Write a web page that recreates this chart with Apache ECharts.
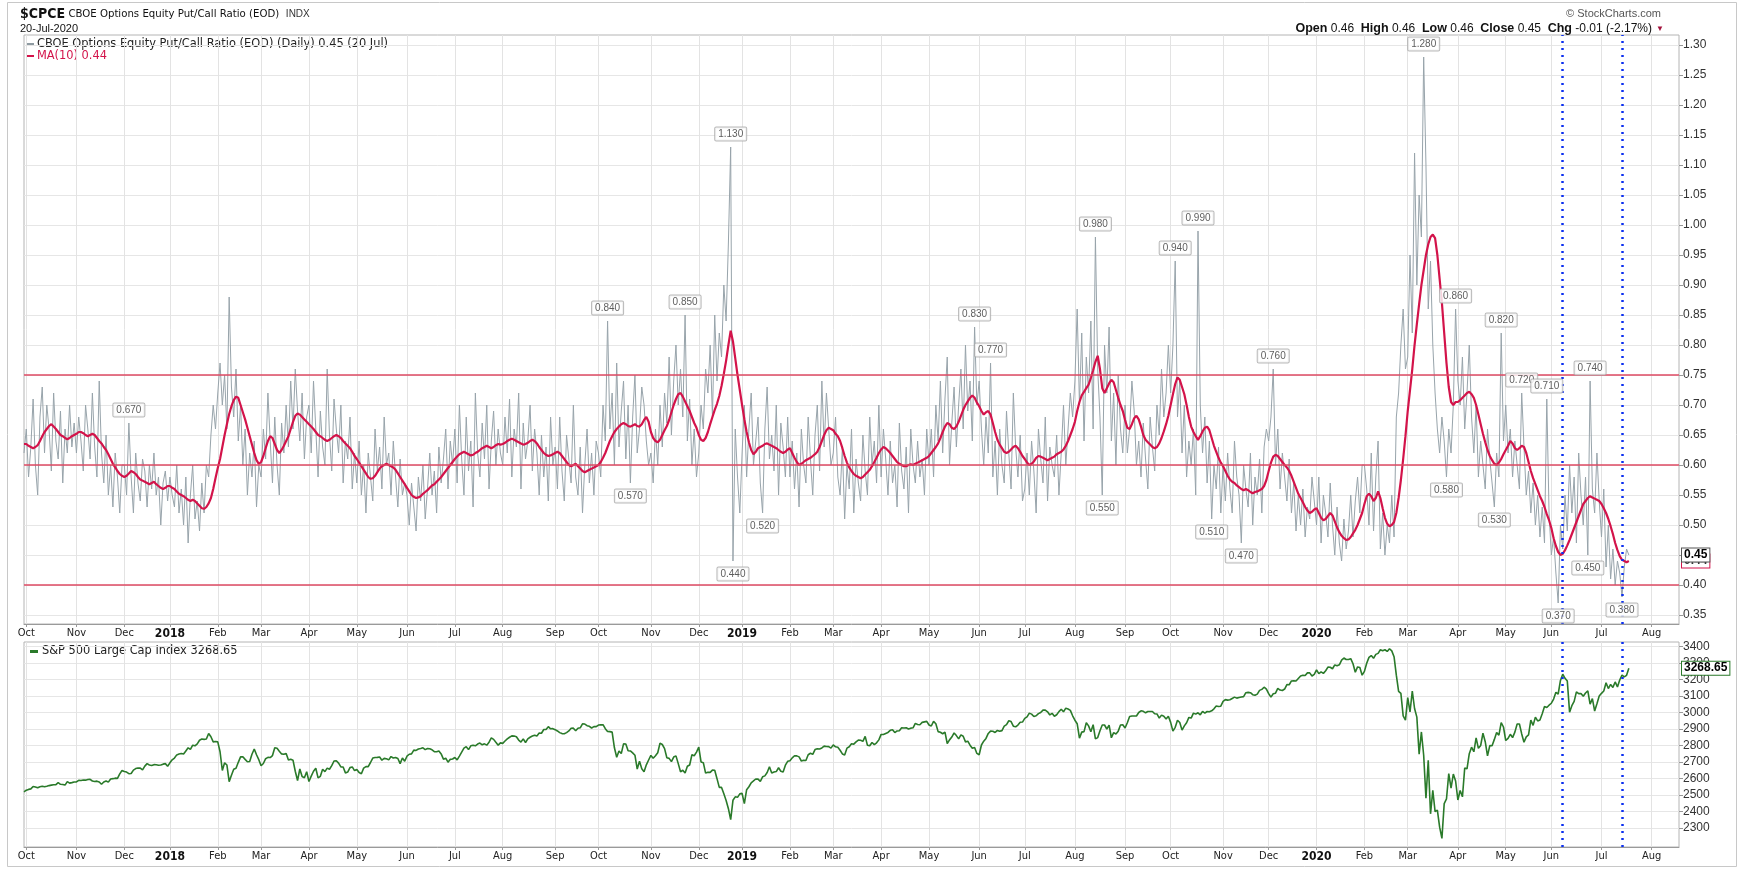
<!DOCTYPE html>
<html>
<head>
<meta charset="utf-8">
<title>$CPCE - CBOE Options Equity Put/Call Ratio</title>
<script src="https://cdn.jsdelivr.net/npm/echarts@6/dist/echarts.min.js"></script>
<style>
  html, body { margin: 0; padding: 0; background: #fff; }
  #chart { width: 1743px; height: 870px; }
</style>
</head>
<body>
<div id="chart"></div>
<script>
// market holidays, used to build the trading-day axis
const holidays = [
  '2017-11-23', '2017-12-25',
  '2018-01-01', '2018-01-15', '2018-02-19', '2018-03-30', '2018-05-28', '2018-07-04',
  '2018-09-03', '2018-11-22', '2018-12-05', '2018-12-25',
  '2019-01-01', '2019-01-21', '2019-02-18', '2019-04-19', '2019-05-27', '2019-07-04',
  '2019-09-02', '2019-11-28', '2019-12-25',
  '2020-01-01', '2020-01-20', '2020-02-17', '2020-04-10', '2020-05-25', '2020-07-03'
]
const monthNames = ['Jan', 'Feb', 'Mar', 'Apr', 'May', 'Jun', 'Jul', 'Aug', 'Sep', 'Oct', 'Nov', 'Dec']

// $CPCE daily close, one row per month (2017 starts on Sep 29)
const ratio2017 = [
  0.62,
  0.66, 0.58, 0.63, 0.71, 0.60, 0.55, 0.68, 0.73, 0.62, 0.70, 0.66, 0.59, 0.72, 0.64, 0.61, 0.69, 0.57, 0.66, 0.62, 0.70, 0.63, 0.67,
  0.62, 0.68, 0.64, 0.59, 0.70, 0.66, 0.61, 0.72, 0.63, 0.58, 0.74, 0.62, 0.57, 0.65, 0.55, 0.60, 0.53, 0.62, 0.58, 0.52, 0.60,
  0.60, 0.55, 0.67, 0.58, 0.52, 0.62, 0.57, 0.54, 0.61, 0.59, 0.53, 0.60, 0.56, 0.62, 0.55, 0.58, 0.50, 0.57, 0.59, 0.54
]
const ratio2018 = [
  0.58, 0.55, 0.53, 0.60, 0.52, 0.56, 0.50, 0.58, 0.47, 0.55, 0.60, 0.51, 0.54, 0.49, 0.57, 0.52, 0.60, 0.58, 0.65, 0.70, 0.66,
  0.72, 0.77, 0.70, 0.75, 0.66, 0.88, 0.73, 0.68, 0.76, 0.64, 0.70, 0.60, 0.66, 0.55, 0.62, 0.58, 0.64, 0.53, 0.60,
  0.58, 0.66, 0.61, 0.72, 0.64, 0.57, 0.68, 0.60, 0.55, 0.67, 0.62, 0.70, 0.63, 0.74, 0.66, 0.76, 0.69, 0.64, 0.72, 0.61, 0.68,
  0.70, 0.62, 0.74, 0.66, 0.58, 0.69, 0.63, 0.60, 0.76, 0.65, 0.59, 0.71, 0.66, 0.62, 0.70, 0.57, 0.64, 0.61, 0.68, 0.56, 0.62,
  0.57, 0.64, 0.55, 0.60, 0.52, 0.62, 0.58, 0.54, 0.66, 0.59, 0.63, 0.56, 0.68, 0.60, 0.62, 0.55, 0.64, 0.58, 0.53, 0.61, 0.55, 0.57,
  0.55, 0.50, 0.57, 0.53, 0.49, 0.58, 0.54, 0.60, 0.51, 0.56, 0.62, 0.55, 0.59, 0.52, 0.63, 0.57, 0.61, 0.66, 0.56, 0.64, 0.60,
  0.66, 0.57, 0.70, 0.61, 0.55, 0.68, 0.59, 0.64, 0.53, 0.72, 0.62, 0.58, 0.67, 0.61, 0.70, 0.56, 0.64, 0.69, 0.60, 0.66, 0.62,
  0.60, 0.68, 0.62, 0.71, 0.58, 0.66, 0.63, 0.72, 0.56, 0.67, 0.61, 0.64, 0.70, 0.59, 0.66, 0.62, 0.55, 0.65, 0.58, 0.63, 0.54, 0.68, 0.60,
  0.63, 0.56, 0.68, 0.59, 0.54, 0.65, 0.61, 0.57, 0.70, 0.58, 0.55, 0.63, 0.52, 0.60, 0.66, 0.57, 0.62, 0.55, 0.64,
  0.62, 0.58, 0.70, 0.64, 0.84, 0.66, 0.72, 0.60, 0.77, 0.63, 0.69, 0.74, 0.61, 0.70, 0.57, 0.68, 0.75, 0.62, 0.66, 0.73, 0.70, 0.64, 0.60,
  0.62, 0.57, 0.66, 0.60, 0.70, 0.63, 0.72, 0.67, 0.78, 0.65, 0.74, 0.80, 0.70, 0.76, 0.68, 0.85, 0.64, 0.71, 0.60, 0.66, 0.58,
  0.62, 0.70, 0.66, 0.76, 0.72, 0.80, 0.68, 0.85, 0.74, 0.82, 0.78, 0.90, 0.84, 0.97, 1.13, 0.44, 0.66, 0.58, 0.52
]
const ratio2019 = [
  0.62, 0.70, 0.58, 0.66, 0.72, 0.60, 0.64, 0.68, 0.57, 0.52, 0.66, 0.73, 0.61, 0.65, 0.59, 0.70, 0.55, 0.67, 0.63, 0.58, 0.68,
  0.58, 0.64, 0.56, 0.62, 0.53, 0.66, 0.60, 0.57, 0.68, 0.61, 0.55, 0.65, 0.70, 0.59, 0.74, 0.63, 0.72, 0.66, 0.60,
  0.62, 0.68, 0.58, 0.55, 0.63, 0.51, 0.60, 0.56, 0.66, 0.52, 0.61, 0.57, 0.54, 0.65, 0.59, 0.55, 0.68, 0.60, 0.64, 0.57, 0.70,
  0.58, 0.66, 0.61, 0.55, 0.64, 0.57, 0.60, 0.53, 0.67, 0.59, 0.56, 0.63, 0.52, 0.66, 0.60, 0.57, 0.64, 0.58, 0.61, 0.55, 0.66,
  0.60, 0.66, 0.58, 0.70, 0.64, 0.74, 0.62, 0.71, 0.78, 0.60, 0.67, 0.73, 0.63, 0.70, 0.76, 0.66, 0.80, 0.69, 0.74, 0.64, 0.83, 0.70,
  0.74, 0.66, 0.60, 0.68, 0.62, 0.77, 0.58, 0.64, 0.55, 0.66, 0.60, 0.57, 0.69, 0.62, 0.56, 0.72, 0.63, 0.58, 0.65, 0.54,
  0.56, 0.62, 0.55, 0.64, 0.59, 0.52, 0.66, 0.61, 0.57, 0.68, 0.54, 0.63, 0.60, 0.58, 0.65, 0.55, 0.62, 0.70, 0.60, 0.66, 0.72, 0.68,
  0.74, 0.86, 0.70, 0.82, 0.64, 0.78, 0.72, 0.84, 0.66, 0.98, 0.76, 0.68, 0.55, 0.80, 0.72, 0.83, 0.64, 0.72, 0.60, 0.75, 0.66, 0.62,
  0.70, 0.62, 0.66, 0.74, 0.69, 0.60, 0.64, 0.58, 0.67, 0.61, 0.56, 0.68, 0.63, 0.59, 0.70, 0.65, 0.76, 0.68, 0.72, 0.80,
  0.72, 0.80, 0.94, 0.68, 0.74, 0.62, 0.70, 0.58, 0.64, 0.60, 0.66, 0.55, 0.99, 0.70, 0.62, 0.68, 0.57, 0.64, 0.51, 0.60, 0.56, 0.63, 0.52,
  0.60, 0.54, 0.62, 0.56, 0.52, 0.64, 0.58, 0.55, 0.47, 0.60, 0.56, 0.53, 0.62, 0.50, 0.58, 0.55, 0.61, 0.52, 0.63, 0.66,
  0.64, 0.68, 0.76, 0.60, 0.66, 0.56, 0.62, 0.58, 0.54, 0.61, 0.52, 0.57, 0.49, 0.55, 0.50, 0.56, 0.48, 0.53, 0.51, 0.58, 0.54
]
const ratio2020 = [
  0.50, 0.58, 0.47, 0.55, 0.52, 0.48, 0.57, 0.50, 0.45, 0.53, 0.47, 0.44, 0.51, 0.46, 0.49, 0.55, 0.48, 0.54, 0.58, 0.52, 0.60,
  0.60, 0.56, 0.50, 0.62, 0.49, 0.58, 0.64, 0.46, 0.52, 0.45, 0.50, 0.47, 0.55, 0.48, 0.68, 0.72, 0.80, 0.86, 0.76,
  0.78, 0.95, 0.82, 1.12, 0.90, 1.05, 0.98, 1.28, 1.10, 0.86, 0.94, 0.80, 0.72, 0.66, 0.62, 0.68, 0.64, 0.58, 0.66, 0.62, 0.70, 0.86,
  0.74, 0.70, 0.78, 0.66, 0.72, 0.80, 0.68, 0.62, 0.70, 0.58, 0.64, 0.60, 0.56, 0.66, 0.61, 0.57, 0.53, 0.62, 0.58, 0.82, 0.64,
  0.70, 0.62, 0.66, 0.58, 0.64, 0.60, 0.56, 0.72, 0.63, 0.55, 0.59, 0.52, 0.57, 0.50, 0.55, 0.48, 0.53, 0.47, 0.71, 0.52,
  0.45, 0.48, 0.42, 0.37, 0.50, 0.46, 0.55, 0.49, 0.60, 0.52, 0.58, 0.47, 0.62, 0.55, 0.50, 0.58, 0.45, 0.74, 0.56, 0.52, 0.62, 0.54,
  0.48, 0.56, 0.43, 0.50, 0.41, 0.46, 0.40, 0.44, 0.42, 0.38, 0.43, 0.46, 0.45
]

// MA(10) as drawn on the chart
const ma2017 = [
  0.635,
  0.635, 0.632, 0.630, 0.628, 0.630, 0.633, 0.640, 0.648, 0.655, 0.660, 0.665, 0.668, 0.664, 0.660, 0.655, 0.650, 0.648, 0.645, 0.643, 0.645, 0.648, 0.650,
  0.652, 0.655, 0.655, 0.653, 0.650, 0.648, 0.650, 0.652, 0.650, 0.645, 0.640, 0.636, 0.630, 0.625, 0.618, 0.610, 0.602, 0.596, 0.590, 0.585, 0.582,
  0.580, 0.582, 0.586, 0.590, 0.588, 0.585, 0.580, 0.576, 0.574, 0.572, 0.570, 0.568, 0.570, 0.572, 0.568, 0.565, 0.562, 0.560, 0.562, 0.565
]
const ma2018 = [
  0.565, 0.562, 0.560, 0.556, 0.552, 0.550, 0.548, 0.545, 0.542, 0.540, 0.542, 0.540, 0.536, 0.532, 0.528, 0.527, 0.530, 0.536, 0.545, 0.560, 0.578,
  0.595, 0.610, 0.630, 0.650, 0.668, 0.685, 0.698, 0.708, 0.714, 0.712, 0.700, 0.688, 0.676, 0.662, 0.648, 0.634, 0.620, 0.608, 0.602,
  0.605, 0.615, 0.628, 0.640, 0.648, 0.645, 0.635, 0.625, 0.620, 0.625, 0.632, 0.640, 0.648, 0.660, 0.672, 0.682, 0.686, 0.684, 0.680, 0.676, 0.672,
  0.668, 0.664, 0.660, 0.655, 0.650, 0.648, 0.645, 0.642, 0.640, 0.642, 0.645, 0.648, 0.650, 0.648, 0.645, 0.640, 0.636, 0.632, 0.628, 0.622, 0.615,
  0.610, 0.604, 0.598, 0.592, 0.586, 0.580, 0.577, 0.578, 0.582, 0.588, 0.594, 0.598, 0.600, 0.602, 0.600, 0.598, 0.596, 0.592, 0.586, 0.580, 0.574, 0.568,
  0.562, 0.556, 0.550, 0.547, 0.545, 0.546, 0.548, 0.552, 0.555, 0.558, 0.562, 0.566, 0.568, 0.572, 0.576, 0.580, 0.585, 0.590, 0.595, 0.600, 0.605,
  0.610, 0.614, 0.618, 0.620, 0.622, 0.620, 0.618, 0.616, 0.617, 0.620, 0.622, 0.625, 0.628, 0.630, 0.632, 0.630, 0.628, 0.630, 0.633, 0.635, 0.634,
  0.635, 0.637, 0.640, 0.642, 0.644, 0.642, 0.640, 0.638, 0.636, 0.634, 0.635, 0.637, 0.640, 0.642, 0.640, 0.636, 0.630, 0.625, 0.620, 0.617, 0.615, 0.616, 0.618,
  0.620, 0.622, 0.620, 0.615, 0.610, 0.605, 0.600, 0.598, 0.600, 0.602, 0.598, 0.594, 0.590, 0.588, 0.590, 0.592, 0.594, 0.596, 0.598,
  0.600, 0.605, 0.612, 0.620, 0.630, 0.640, 0.648, 0.655, 0.660, 0.664, 0.668, 0.670, 0.668, 0.665, 0.664, 0.666, 0.668, 0.665, 0.664, 0.668, 0.675, 0.680, 0.672,
  0.655, 0.645, 0.640, 0.638, 0.642, 0.650, 0.658, 0.665, 0.675, 0.688, 0.700, 0.710, 0.718, 0.720, 0.714, 0.706, 0.698, 0.690, 0.680, 0.670, 0.662,
  0.650, 0.642, 0.640, 0.645, 0.655, 0.668, 0.680, 0.692, 0.702, 0.715, 0.732, 0.752, 0.774, 0.800, 0.824, 0.806, 0.778, 0.750, 0.725
]
const ma2019 = [
  0.700, 0.676, 0.655, 0.638, 0.625, 0.618, 0.622, 0.628, 0.630, 0.632, 0.635, 0.636, 0.634, 0.632, 0.630, 0.628, 0.625, 0.622, 0.620, 0.622, 0.626,
  0.628, 0.620, 0.612, 0.605, 0.600, 0.602, 0.605, 0.608, 0.610, 0.612, 0.615, 0.618, 0.622, 0.630, 0.640, 0.650, 0.658, 0.662, 0.660,
  0.658, 0.652, 0.648, 0.640, 0.628, 0.615, 0.604, 0.596, 0.590, 0.585, 0.582, 0.580, 0.578, 0.580, 0.584, 0.588, 0.592, 0.598, 0.605, 0.612, 0.620,
  0.626, 0.630, 0.628, 0.624, 0.620, 0.615, 0.610, 0.605, 0.602, 0.600, 0.598, 0.598, 0.600, 0.601, 0.600, 0.602, 0.604, 0.606, 0.608, 0.610, 0.612,
  0.615, 0.620, 0.625, 0.630, 0.636, 0.645, 0.655, 0.664, 0.670, 0.668, 0.662, 0.660, 0.664, 0.672, 0.682, 0.692, 0.700, 0.706, 0.712, 0.716, 0.712, 0.704,
  0.698, 0.690, 0.684, 0.688, 0.690, 0.684, 0.670, 0.655, 0.642, 0.634, 0.628, 0.622, 0.620, 0.622, 0.626, 0.630, 0.632, 0.628, 0.622, 0.615,
  0.610, 0.604, 0.600, 0.602, 0.606, 0.612, 0.615, 0.614, 0.612, 0.610, 0.608, 0.610, 0.612, 0.614, 0.618, 0.620, 0.622, 0.626, 0.632, 0.640, 0.650, 0.660,
  0.672, 0.690, 0.705, 0.716, 0.722, 0.728, 0.734, 0.745, 0.758, 0.772, 0.782, 0.760, 0.728, 0.720, 0.728, 0.736, 0.742, 0.738, 0.725, 0.712, 0.700, 0.690,
  0.675, 0.662, 0.660, 0.668, 0.678, 0.682, 0.676, 0.664, 0.650, 0.642, 0.638, 0.634, 0.630, 0.628, 0.630, 0.636, 0.645, 0.656, 0.668, 0.682,
  0.700, 0.718, 0.735, 0.746, 0.742, 0.730, 0.718, 0.700, 0.680, 0.664, 0.655, 0.648, 0.642, 0.648, 0.656, 0.662, 0.664, 0.658, 0.645, 0.632, 0.622, 0.612, 0.604,
  0.598, 0.590, 0.582, 0.576, 0.572, 0.570, 0.566, 0.563, 0.560, 0.558, 0.560, 0.558, 0.555, 0.553, 0.555, 0.556, 0.558, 0.560, 0.565, 0.575,
  0.590, 0.604, 0.614, 0.617, 0.615, 0.610, 0.605, 0.600, 0.596, 0.590, 0.582, 0.572, 0.562, 0.552, 0.545, 0.538, 0.530, 0.524, 0.520, 0.522, 0.526
]
const ma2020 = [
  0.528, 0.520, 0.512, 0.508, 0.510, 0.515, 0.520, 0.516, 0.506, 0.496, 0.488, 0.482, 0.478, 0.475, 0.476, 0.480, 0.486, 0.492, 0.500, 0.510, 0.520,
  0.535, 0.548, 0.552, 0.548, 0.540, 0.545, 0.556, 0.545, 0.528, 0.512, 0.502, 0.498, 0.500, 0.505, 0.520, 0.545, 0.575, 0.610, 0.648,
  0.690, 0.725, 0.760, 0.800, 0.835, 0.868, 0.900, 0.925, 0.950, 0.968, 0.980, 0.984, 0.978, 0.950, 0.910, 0.870, 0.820, 0.770, 0.730, 0.705, 0.700, 0.705,
  0.705, 0.708, 0.712, 0.716, 0.720, 0.722, 0.718, 0.712, 0.700, 0.684, 0.668, 0.652, 0.638, 0.625, 0.615, 0.608, 0.602, 0.600, 0.604, 0.610, 0.618,
  0.625, 0.632, 0.640, 0.636, 0.628, 0.625, 0.628, 0.632, 0.630, 0.620, 0.605, 0.590, 0.578, 0.568, 0.558, 0.548, 0.540, 0.530, 0.518, 0.508,
  0.495, 0.478, 0.465, 0.455, 0.450, 0.452, 0.458, 0.466, 0.475, 0.485, 0.495, 0.505, 0.515, 0.525, 0.535, 0.540, 0.545, 0.548, 0.546, 0.544, 0.542, 0.540,
  0.535, 0.528, 0.520, 0.510, 0.498, 0.485, 0.470, 0.458, 0.448, 0.442, 0.440, 0.438, 0.440
]

// S&P 500 Large Cap Index, daily close
const spx2017 = [
  2519,
  2529, 2534, 2537, 2552, 2549, 2544, 2550, 2553, 2550, 2553, 2557, 2560, 2562, 2563, 2575, 2565, 2564, 2560, 2581, 2572, 2575, 2579,
  2579, 2589, 2588, 2591, 2590, 2594, 2595, 2585, 2582, 2584, 2579, 2565, 2579, 2585, 2578, 2597, 2599, 2602, 2601, 2628, 2648,
  2642, 2639, 2629, 2630, 2651, 2660, 2664, 2663, 2652, 2675, 2690, 2682, 2679, 2684, 2683, 2680, 2682, 2687, 2690, 2674
]
const spx2018 = [
  2695, 2713, 2724, 2743, 2748, 2751, 2748, 2767, 2786, 2776, 2802, 2798, 2810, 2832, 2839, 2837, 2839, 2873, 2853, 2822, 2824,
  2822, 2762, 2649, 2695, 2682, 2581, 2620, 2656, 2662, 2698, 2731, 2732, 2716, 2701, 2703, 2747, 2779, 2744, 2714,
  2677, 2691, 2720, 2728, 2727, 2739, 2786, 2783, 2765, 2749, 2747, 2752, 2712, 2717, 2711, 2644, 2588, 2658, 2612, 2605, 2641,
  2582, 2614, 2644, 2662, 2604, 2613, 2656, 2642, 2663, 2656, 2678, 2706, 2708, 2693, 2670, 2670, 2634, 2639, 2666, 2670, 2648,
  2655, 2636, 2629, 2663, 2672, 2672, 2697, 2724, 2727, 2728, 2730, 2711, 2722, 2720, 2713, 2733, 2724, 2727, 2721, 2690, 2724, 2705,
  2735, 2747, 2749, 2772, 2770, 2779, 2782, 2786, 2775, 2782, 2780, 2774, 2763, 2762, 2767, 2749, 2717, 2723, 2699, 2716, 2718,
  2727, 2713, 2736, 2760, 2784, 2793, 2775, 2798, 2801, 2798, 2809, 2815, 2804, 2810, 2802, 2820, 2846, 2837, 2819, 2802, 2816,
  2813, 2827, 2840, 2850, 2858, 2857, 2853, 2833, 2821, 2840, 2818, 2840, 2850, 2857, 2862, 2857, 2875, 2874, 2897, 2897, 2914, 2901, 2902,
  2896, 2888, 2878, 2872, 2871, 2878, 2888, 2904, 2905, 2889, 2904, 2907, 2931, 2930, 2920, 2916, 2906, 2914, 2914,
  2924, 2925, 2926, 2902, 2885, 2884, 2881, 2786, 2729, 2767, 2751, 2810, 2809, 2768, 2767, 2755, 2741, 2657, 2705, 2659, 2641, 2683, 2712,
  2740, 2723, 2738, 2756, 2814, 2806, 2781, 2726, 2722, 2702, 2730, 2737, 2690, 2641, 2650, 2633, 2674, 2682, 2744, 2738, 2760,
  2790, 2700, 2696, 2633, 2638, 2637, 2651, 2650, 2599, 2546, 2546, 2507, 2467, 2417, 2351, 2468, 2489, 2486, 2507
]
const spx2019 = [
  2510, 2448, 2532, 2550, 2574, 2585, 2597, 2596, 2583, 2610, 2616, 2636, 2671, 2633, 2639, 2642, 2665, 2644, 2640, 2681, 2704,
  2707, 2725, 2738, 2737, 2731, 2706, 2710, 2709, 2744, 2753, 2746, 2775, 2780, 2779, 2785, 2796, 2794, 2793, 2784,
  2804, 2792, 2789, 2771, 2749, 2743, 2784, 2792, 2811, 2808, 2822, 2833, 2832, 2825, 2855, 2801, 2798, 2818, 2805, 2816, 2834,
  2867, 2867, 2873, 2879, 2892, 2895, 2878, 2888, 2889, 2907, 2906, 2907, 2900, 2905, 2907, 2934, 2927, 2926, 2940, 2943, 2946,
  2924, 2918, 2946, 2932, 2884, 2880, 2871, 2881, 2812, 2834, 2851, 2876, 2860, 2840, 2864, 2856, 2822, 2826, 2802, 2783, 2788, 2752,
  2744, 2803, 2826, 2843, 2873, 2887, 2886, 2879, 2891, 2886, 2890, 2917, 2926, 2950, 2945, 2917, 2913, 2924, 2941, 2942,
  2964, 2973, 2996, 2990, 2976, 2980, 2993, 3000, 3014, 3014, 3004, 2985, 2995, 2977, 2986, 3005, 3020, 3004, 3026, 3021, 3013, 2980,
  2953, 2932, 2844, 2881, 2884, 2938, 2919, 2883, 2926, 2840, 2848, 2889, 2924, 2924, 2900, 2923, 2847, 2878, 2870, 2887, 2924, 2926,
  2906, 2938, 2976, 2979, 2979, 2979, 3000, 3010, 3007, 2998, 3006, 3006, 3006, 2992, 2991, 2966, 2984, 2977, 2961, 2977,
  2940, 2887, 2910, 2953, 2939, 2893, 2919, 2938, 2970, 2966, 2996, 2990, 2998, 2986, 3007, 2996, 3006, 3004, 3010, 3022, 3039, 3036, 3038,
  3067, 3078, 3075, 3077, 3085, 3093, 3087, 3091, 3094, 3096, 3120, 3122, 3120, 3108, 3104, 3111, 3134, 3140, 3153, 3141,
  3114, 3093, 3113, 3117, 3146, 3136, 3133, 3142, 3169, 3168, 3191, 3192, 3191, 3206, 3221, 3225, 3224, 3240, 3240, 3221, 3231
]
const spx2020 = [
  3258, 3235, 3246, 3237, 3253, 3275, 3274, 3265, 3288, 3283, 3289, 3317, 3330, 3321, 3321, 3326, 3295, 3244, 3276, 3273, 3226,
  3249, 3298, 3334, 3345, 3328, 3352, 3358, 3380, 3374, 3380, 3370, 3386, 3373, 3338, 3226, 3128, 3116, 2979, 2954,
  3090, 3003, 3130, 3024, 2972, 2747, 2882, 2741, 2481, 2711, 2386, 2529, 2399, 2409, 2305, 2237, 2448, 2476, 2630, 2541, 2627, 2585,
  2470, 2527, 2489, 2664, 2659, 2750, 2790, 2762, 2846, 2783, 2800, 2875, 2823, 2737, 2799, 2798, 2837, 2878, 2863, 2939, 2912,
  2830, 2843, 2868, 2848, 2881, 2930, 2930, 2870, 2820, 2852, 2864, 2954, 2922, 2972, 2949, 2955, 2992, 3036, 3030, 3044,
  3056, 3081, 3122, 3112, 3194, 3232, 3207, 3190, 3002, 3041, 3067, 3125, 3114, 3115, 3098, 3118, 3131, 3050, 3084, 3009, 3053, 3100,
  3116, 3130, 3180, 3145, 3170, 3152, 3185, 3155, 3197, 3227, 3216, 3225, 3268.65
]

// days that carry a value callout, and the marked dates
const calloutDates = [
  '2017-12-05', '2018-10-05', '2018-10-19', '2018-11-23', '2018-12-24', '2018-12-26',
  '2019-01-15', '2019-05-30', '2019-06-10', '2019-08-14', '2019-08-19', '2019-10-03',
  '2019-10-17', '2019-10-25', '2019-11-13', '2019-12-04', '2020-03-11', '2020-03-25',
  '2020-03-31', '2020-04-24', '2020-04-29', '2020-05-12', '2020-05-28', '2020-06-04',
  '2020-06-23', '2020-06-24', '2020-07-15'
]
const markerDates = ['2020-06-08', '2020-07-15']
const ratioLevels = [0.75, 0.60, 0.40]
const ratioTicks = [0.35, 0.40, 0.45, 0.50, 0.55, 0.60, 0.65, 0.70, 0.75, 0.80, 0.85, 0.90, 0.95, 1.00, 1.05, 1.10, 1.15, 1.20, 1.25, 1.30]
const spxTicks = [2300, 2400, 2500, 2600, 2700, 2800, 2900, 3000, 3100, 3200, 3300, 3400]

const ratio = [].concat(ratio2017, ratio2018, ratio2019, ratio2020)
const ma = [].concat(ma2017, ma2018, ma2019, ma2020)
const spx = [].concat(spx2017, spx2018, spx2019, spx2020)

function tradingDays(from, to) {
  const out = []
  const d = new Date(from + 'T00:00:00Z')
  const end = new Date(to + 'T00:00:00Z')
  while (d <= end) {
    const s = d.toISOString().slice(0, 10)
    const wd = d.getUTCDay()
    if (wd !== 0 && wd !== 6 && holidays.indexOf(s) < 0) out.push(s)
    d.setUTCDate(d.getUTCDate() + 1)
  }
  return out
}

// axis runs a few weeks past the last print, like the original
const dates = tradingDays('2017-09-29', '2020-08-19')
const monthStart = dates.map((d, i) => i > 0 && d.slice(0, 7) !== dates[i - 1].slice(0, 7))
const showMonth = (i) => monthStart[i]

const fontNarrow = "'Liberation Sans Narrow', 'DejaVu Sans Condensed', sans-serif"
const fontSans = "'Liberation Sans', Arial, sans-serif"
const fontWide = "'DejaVu Sans', Verdana, sans-serif"

const lastRatio = ratio[ratio.length - 1]
const lastMa = ma[ma.length - 1]
const lastSpx = spx[spx.length - 1]

const calloutData = calloutDates.map(d => {
  const i = dates.indexOf(d)
  const up = ratio[i] >= ma[i]
  return { value: [d, ratio[i]], label: { position: up ? 'top' : 'bottom' } }
})

function xAxisFor(gridIndex) {
  return {
    type: 'category',
    gridIndex: gridIndex,
    data: dates,
    boundaryGap: false,
    axisLine: { show: true, lineStyle: { color: '#9a9a9a' } },
    axisTick: { show: true, interval: showMonth, length: 3, lineStyle: { color: '#9a9a9a' } },
    axisLabel: {
      interval: showMonth,
      margin: 4,
      color: '#222',
      fontSize: 11,
      fontFamily: fontNarrow,
      formatter: (v) => {
        const m = +v.slice(5, 7)
        return m === 1 ? '{y|' + v.slice(0, 4) + '}' : monthNames[m - 1]
      },
      rich: { y: { fontWeight: 'bold', fontSize: 12, fontFamily: fontNarrow, color: '#111' } }
    },
    splitLine: { show: true, interval: showMonth, lineStyle: { color: '#e3e3e3', width: 1 } }
  }
}

function yAxisFor(gridIndex, min, max, ticks, digits) {
  return {
    type: 'value',
    gridIndex: gridIndex,
    position: 'right',
    min: min,
    max: max,
    scale: true,
    axisLine: { show: false },
    axisTick: { show: true, customValues: ticks, length: 4, lineStyle: { color: '#999' } },
    axisLabel: {
      customValues: ticks,
      margin: 4,
      color: '#333',
      fontSize: 12,
      fontFamily: fontSans,
      formatter: (v) => v.toFixed(digits)
    },
    splitLine: { show: true, lineStyle: { color: '#e6e6e6' } }
  }
}

// last-value tag sitting just right of the plot, at the value's height
function tag(value, text, border, color) {
  return {
    yAxis: value,
    lineStyle: { color: 'rgba(255,255,255,0)', width: 1 },
    label: {
      show: true,
      position: 'end',
      distance: 3,
      formatter: text,
      color: color,
      fontWeight: 'bold',
      fontSize: 12,
      fontFamily: fontSans,
      backgroundColor: '#fff',
      borderColor: border,
      borderWidth: 1,
      padding: [1, 2, 0, 2]
    }
  }
}

const blueMarkers = markerDates.map(d => ({
  xAxis: d,
  lineStyle: { color: '#0b2ff0', type: [2, 5], width: 2.5 }
}))

const chart = echarts.init(document.getElementById('chart'), null, { renderer: 'canvas' })

chart.setOption({
  animation: false,
  backgroundColor: '#fff',
  grid: [
    { left: 24, right: 64, top: 35, height: 589, show: true, borderColor: '#b4b4b4', backgroundColor: 'transparent' },
    { left: 24, right: 64, top: 642, height: 205, show: true, borderColor: '#b4b4b4', backgroundColor: 'transparent' }
  ],
  xAxis: [xAxisFor(0), xAxisFor(1)],
  yAxis: [
    yAxisFor(0, 0.335, 1.3167, ratioTicks, 2),
    yAxisFor(1, 2185, 3427, spxTicks, 0)
  ],
  graphic: [
    { type: 'rect', silent: true, shape: { x: 7.5, y: 2.5, width: 1729, height: 864 }, style: { fill: 'none', stroke: '#c8c8c8', lineWidth: 1 } },
    {
      type: 'text', x: 20, y: 14, silent: true,
      style: {
        text: '{t|$CPCE} {n|CBOE Options Equity Put/Call Ratio (EOD)}  {s|INDX}',
        verticalAlign: 'middle', textVerticalAlign: 'middle',
        rich: {
          t: { fontSize: 14, fontWeight: 'bold', fontFamily: fontNarrow, fill: '#111', color: '#111' },
          n: { fontSize: 11.3, fontFamily: fontNarrow, fill: '#111', color: '#111' },
          s: { fontSize: 10, fontFamily: fontSans, fill: '#333', color: '#333' }
        }
      }
    },
    { type: 'text', x: 20, y: 29, silent: true, style: { text: '20-Jul-2020', font: '11px ' + fontSans, fill: '#111', verticalAlign: 'middle', textVerticalAlign: 'middle' } },
    { type: 'text', x: 1661, y: 14, silent: true, style: { text: '\u00a9 StockCharts.com', font: '11px ' + fontSans, fill: '#555', align: 'right', textAlign: 'right', verticalAlign: 'middle', textVerticalAlign: 'middle' } },
    {
      type: 'text', x: 1652, y: 29, silent: true,
      style: {
        text: '{b|Open} 0.46  {b|High} 0.46  {b|Low} 0.46  {b|Close} 0.45  {b|Chg} -0.01 (-2.17%)',
        font: '12px ' + fontSans, fill: '#111',
        align: 'right', textAlign: 'right', verticalAlign: 'middle', textVerticalAlign: 'middle',
        rich: { b: { fontSize: 12.5, fontWeight: 'bold', fontFamily: fontSans, fill: '#111', color: '#111' } }
      }
    },
    { type: 'text', x: 1656, y: 29, silent: true, style: { text: '\u25bc', font: '8px ' + fontSans, fill: '#a3123c', verticalAlign: 'middle', textVerticalAlign: 'middle' } },
    // panel legends
    { type: 'rect', silent: true, shape: { x: 26, y: 43, width: 8, height: 2 }, style: { fill: '#8e9aa1' } },
    { type: 'text', x: 37, y: 44, silent: true, style: { text: 'CBOE Options Equity Put/Call Ratio (EOD) (Daily) ' + lastRatio.toFixed(2) + ' (20 Jul)', font: '11.4px ' + fontWide, fill: '#222', verticalAlign: 'middle', textVerticalAlign: 'middle' } },
    { type: 'rect', silent: true, shape: { x: 26, y: 55, width: 8, height: 2 }, style: { fill: '#d3134a' } },
    { type: 'text', x: 37, y: 56, silent: true, style: { text: 'MA(10) ' + lastMa.toFixed(2), font: '11.4px ' + fontWide, fill: '#d3134a', verticalAlign: 'middle', textVerticalAlign: 'middle' } },
    { type: 'rect', silent: true, shape: { x: 30, y: 650, width: 8, height: 3 }, style: { fill: '#2a7a2a' } },
    { type: 'text', x: 42, y: 651, silent: true, style: { text: 'S&P 500 Large Cap Index ' + lastSpx.toFixed(2), font: '11.4px ' + fontWide, fill: '#222', verticalAlign: 'middle', textVerticalAlign: 'middle' } }
  ],
  series: [
    {
      name: 'CBOE Options Equity Put/Call Ratio (EOD)',
      type: 'line',
      xAxisIndex: 0,
      yAxisIndex: 0,
      data: ratio,
      showSymbol: false,
      symbol: 'none',
      lineStyle: { color: '#98a4ab', width: 1 },
      z: 2,
      markLine: {
        silent: true,
        symbol: ['none', 'none'],
        label: { show: false },
        data: blueMarkers.concat(ratioLevels.map(v => ({
          yAxis: v,
          lineStyle: { color: '#de4a63', type: 'solid', width: 1.5 }
        })))
      }
    },
    {
      name: 'MA(10)',
      type: 'line',
      xAxisIndex: 0,
      yAxisIndex: 0,
      data: ma,
      showSymbol: false,
      symbol: 'none',
      lineStyle: { color: '#d3134a', width: 2.2 },
      z: 3,
      markLine: {
        silent: true,
        symbol: ['none', 'none'],
        label: { show: false },
        data: [
          tag(lastMa, lastMa.toFixed(2), '#d3134a', '#333'),
          tag(lastRatio, lastRatio.toFixed(2), '#555', '#000')
        ]
      }
    },
    {
      name: 'callouts',
      type: 'scatter',
      xAxisIndex: 0,
      yAxisIndex: 0,
      data: calloutData,
      symbolSize: 1,
      itemStyle: { color: 'rgba(0,0,0,0)' },
      z: 5,
      label: {
        show: true,
        distance: 6,
        formatter: (p) => p.value[1].toFixed(3),
        color: '#333',
        fontSize: 10,
        fontFamily: fontSans,
        backgroundColor: '#fff',
        borderColor: '#a8a8a8',
        borderWidth: 1,
        borderRadius: 1,
        padding: [2, 3, 1, 3]
      }
    },
    {
      name: 'S&P 500 Large Cap Index',
      type: 'line',
      xAxisIndex: 1,
      yAxisIndex: 1,
      data: spx,
      showSymbol: false,
      symbol: 'none',
      lineStyle: { color: '#2a7a2a', width: 1.6 },
      markLine: {
        silent: true,
        symbol: ['none', 'none'],
        label: { show: false },
        data: blueMarkers.concat([tag(lastSpx, lastSpx.toFixed(2), '#2a7a2a', '#000')])
      }
    }
  ]
})
</script>
</body>
</html>
